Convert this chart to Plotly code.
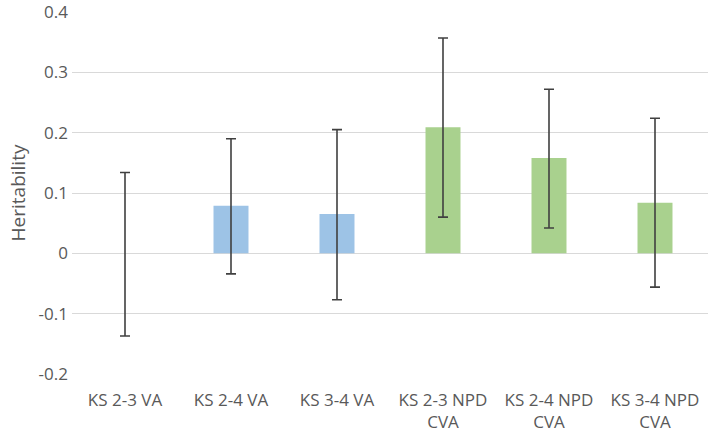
import plotly.graph_objects as go

# data
categories = ["KS 2-3 VA", "KS 2-4 VA", "KS 3-4 VA",
              "KS 2-3 NPD<br>CVA", "KS 2-4 NPD<br>CVA", "KS 3-4 NPD<br>CVA"]
heritability = [0.0, 0.079, 0.065, 0.209, 0.158, 0.084]
ci_upper = [0.134, 0.190, 0.205, 0.357, 0.272, 0.224]
ci_lower = [-0.137, -0.034, -0.077, 0.060, 0.042, -0.056]
group = ["VA", "VA", "VA", "CVA", "CVA", "CVA"]

group_colors = {"VA": "#9DC3E6", "CVA": "#A9D18E"}

err_plus = [u - h for u, h in zip(ci_upper, heritability)]
err_minus = [h - l for h, l in zip(heritability, ci_lower)]

fig = go.Figure()
fig.add_trace(go.Bar(
    x=categories,
    y=heritability,
    marker=dict(color=[group_colors[g] for g in group], line_width=0),
    error_y=dict(type="data", symmetric=False,
                 array=err_plus, arrayminus=err_minus,
                 color="#404040", thickness=1.6, width=5),
))

font_family = "Open Sans, sans-serif"

fig.update_layout(
    width=709, height=436,
    margin=dict(l=72, r=1, t=12, b=62),
    plot_bgcolor="white", paper_bgcolor="white",
    bargap=0.67,
    showlegend=False,
    font=dict(family=font_family, size=17, color="#595959"),
)

fig.update_yaxes(
    range=[-0.2, 0.4],
    tickvals=[-0.2, -0.1, 0, 0.1, 0.2, 0.3, 0.4],
    ticktext=["-0.2", "-0.1", "0", "0.1", "0.2", "0.3", "0.4"],
    tickfont=dict(size=17),
    showgrid=True, gridcolor="#D9D9D9", gridwidth=1,
    zeroline=False, showline=False, ticks="",
    ticklabelstandoff=3, ticklabeloverflow="allow",
    automargin=False,
    title=dict(text="Heritability", font=dict(size=19, color="#595959"), standoff=7),
)
fig.update_xaxes(showline=False, showgrid=False, ticks="", tickangle=0,
                 ticklabelstandoff=14, ticklabeloverflow="allow",
                 automargin=False)

# drop the default page margin so the chart fills the window
fig.write_html("out.html", config={"displayModeBar": False},
               post_script="document.body.style.margin='0';")
